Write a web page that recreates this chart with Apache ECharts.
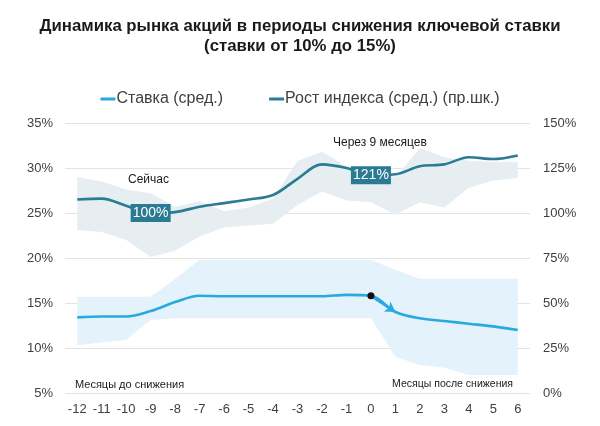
<!DOCTYPE html>
<html>
<head>
<meta charset="utf-8">
<script src="https://cdn.jsdelivr.net/npm/echarts@6/dist/echarts.min.js"></script>
<style>
html,body{margin:0;padding:0;background:#fff;}
#c{width:600px;height:426px;}
</style>
</head>
<body>
<div id="c"></div>
<script>
// ---- data ----
var months = ['-12','-11','-10','-9','-8','-7','-6','-5','-4','-3','-2','-1','0','1','2','3','4','5','6'];
var rateAvg   = [13.4,13.5,13.5,14.1,15.1,15.8,15.75,15.75,15.75,15.75,15.75,15.9,15.8,14.0,13.3,13.0,12.7,12.4,12.0];
var rateLow   = [10.3,10.6,10.9,13.1,13.3,13.3,13.3,13.3,13.3,13.3,13.3,13.3,13.3,9.0,8.1,7.8,7.0,7.0,7.0];
var rateHigh  = [15.7,15.7,15.7,15.7,17.7,19.8,19.8,19.8,19.8,19.8,19.8,19.8,19.8,18.7,17.7,17.7,17.7,17.7,17.7];
var indexAvg  = [107.5,108,104,100,100.5,103.5,105.5,107.5,110,119,127,125,121,121.5,126,127,131,130,132];
var indexLow  = [90.5,89.5,85,75.5,79,87,92,93,94,104.5,112,107,106,99,106,103,114,118,119.5];
var indexHigh = [120,117.5,113,111,103.5,106.5,101,103,108,129,134,126,124,120,136,131,129,128.5,128.5];
var tagMonths = ['-9','0'];
var tagValues = [100,121];
var cutMonth = '0';
var nextMonth = '1';

var C_RATE = '#2aa9df';
var C_IDX = '#2b7b94';
var C_RATE_BAND = '#e4f3fb';
var C_IDX_BAND = '#e7eef2';

function diff(a,b){ return a.map(function(v,i){ return +(v - b[i]).toFixed(2); }); }
var cutIdx = months.indexOf(cutMonth), nextIdx = months.indexOf(nextMonth);

var chart = echarts.init(document.getElementById('c'), null, {renderer:'canvas'});
var font = '"Liberation Sans", Arial, sans-serif';
var option = {
  animation:false,
  textStyle:{fontFamily:font},
  title:{
    text:'Динамика рынка акций в периоды снижения ключевой ставки\n(ставки от 10% до 15%)',
    left:'center', top:11,
    textStyle:{fontFamily:font,fontSize:16.8,fontWeight:'bold',color:'#1a1a1a',lineHeight:20}
  },
  legend:{
    top:86, left:'center', itemGap:46, itemWidth:15, itemHeight:3, icon:'rect',
    data:['Ставка (сред.)','Рост индекса (сред.) (пр.шк.)'],
    textStyle:{fontFamily:font,fontSize:16,color:'#404040',padding:[0,0,0,-4]}
  },
  grid:{left:65,right:70,top:123,bottom:33,containLabel:false},
  xAxis:{
    type:'category', data:months, boundaryGap:true,
    axisLine:{show:false}, axisTick:{show:false},
    axisLabel:{color:'#404040',fontSize:13,margin:10,fontFamily:font}
  },
  yAxis:[
    {type:'value',min:5,max:35,interval:5,position:'left',
     axisLabel:{formatter:'{value}%',color:'#404040',fontSize:13,margin:12,fontFamily:font},
     splitLine:{lineStyle:{color:'#e3e3e3',width:1}},axisLine:{show:false},axisTick:{show:false}},
    {type:'value',min:0,max:150,interval:25,position:'right',
     axisLabel:{formatter:'{value}%',color:'#404040',fontSize:13,margin:13,fontFamily:font},
     splitLine:{show:false},axisLine:{show:false},axisTick:{show:false}}
  ],
  series:[
    {name:'rateLowBase',type:'line',stack:'rb',data:rateLow,yAxisIndex:0,symbol:'none',
     lineStyle:{opacity:0},areaStyle:{opacity:0},silent:true,z:1},
    {name:'rateBand',type:'line',stack:'rb',data:diff(rateHigh,rateLow),yAxisIndex:0,symbol:'none',
     lineStyle:{opacity:0},areaStyle:{color:C_RATE_BAND,opacity:1},silent:true,z:1},
    {name:'idxLowBase',type:'line',stack:'ib',data:indexLow,yAxisIndex:1,symbol:'none',
     lineStyle:{opacity:0},areaStyle:{opacity:0},silent:true,z:2},
    {name:'idxBand',type:'line',stack:'ib',data:diff(indexHigh,indexLow),yAxisIndex:1,symbol:'none',
     lineStyle:{opacity:0},areaStyle:{color:C_IDX_BAND,opacity:1},silent:true,z:2},
    {name:'Ставка (сред.)',type:'line',data:rateAvg,yAxisIndex:0,smooth:0.35,
     symbol:'none',color:C_RATE,lineStyle:{color:C_RATE,width:2.6},z:5,
     markLine:{silent:true,symbol:['none','arrow'],symbolSize:[9,10],
       lineStyle:{color:C_RATE,width:2.6,type:'solid'},label:{show:false},
       data:[[{coord:[cutMonth,rateAvg[cutIdx]]},{coord:[nextMonth,rateAvg[nextIdx]]}]]}
    },
    {name:'Рост индекса (сред.) (пр.шк.)',type:'line',data:indexAvg,yAxisIndex:1,smooth:0.35,
     symbol:'none',color:C_IDX,lineStyle:{color:C_IDX,width:2.6},z:6},
    {name:'tags',type:'scatter',yAxisIndex:1,z:20,silent:true,
     data:tagMonths.map(function(m,i){return [m,tagValues[i]];}),
     symbol:'rect',symbolSize:[40,18],itemStyle:{color:'#2a7a93',opacity:1},
     label:{show:true,position:'inside',color:'#fff',fontSize:14,fontFamily:font,
       formatter:function(p){return p.value[1]+'%';}}},
    {name:'dot',type:'scatter',yAxisIndex:0,z:21,silent:true,
     data:[[cutMonth,rateAvg[cutIdx]]],symbol:'circle',symbolSize:7,itemStyle:{color:'#111',opacity:1}}
  ],
  graphic:[
    {type:'text',left:128,top:174,style:{text:'Сейчас',fontSize:12,fill:'#1a1a1a',fontFamily:font}},
    {type:'text',left:333,top:137,style:{text:'Через 9 месяцев',fontSize:12,fill:'#1a1a1a',fontFamily:font}},
    {type:'text',left:75,top:379,style:{text:'Месяцы до снижения',fontSize:11,fill:'#1a1a1a',fontFamily:font}},
    {type:'text',right:87,top:379,style:{text:'Месяцы после снижения',fontSize:10.5,fill:'#1a1a1a',fontFamily:font}}
  ]
};
chart.setOption(option);
</script>
</body>
</html>
